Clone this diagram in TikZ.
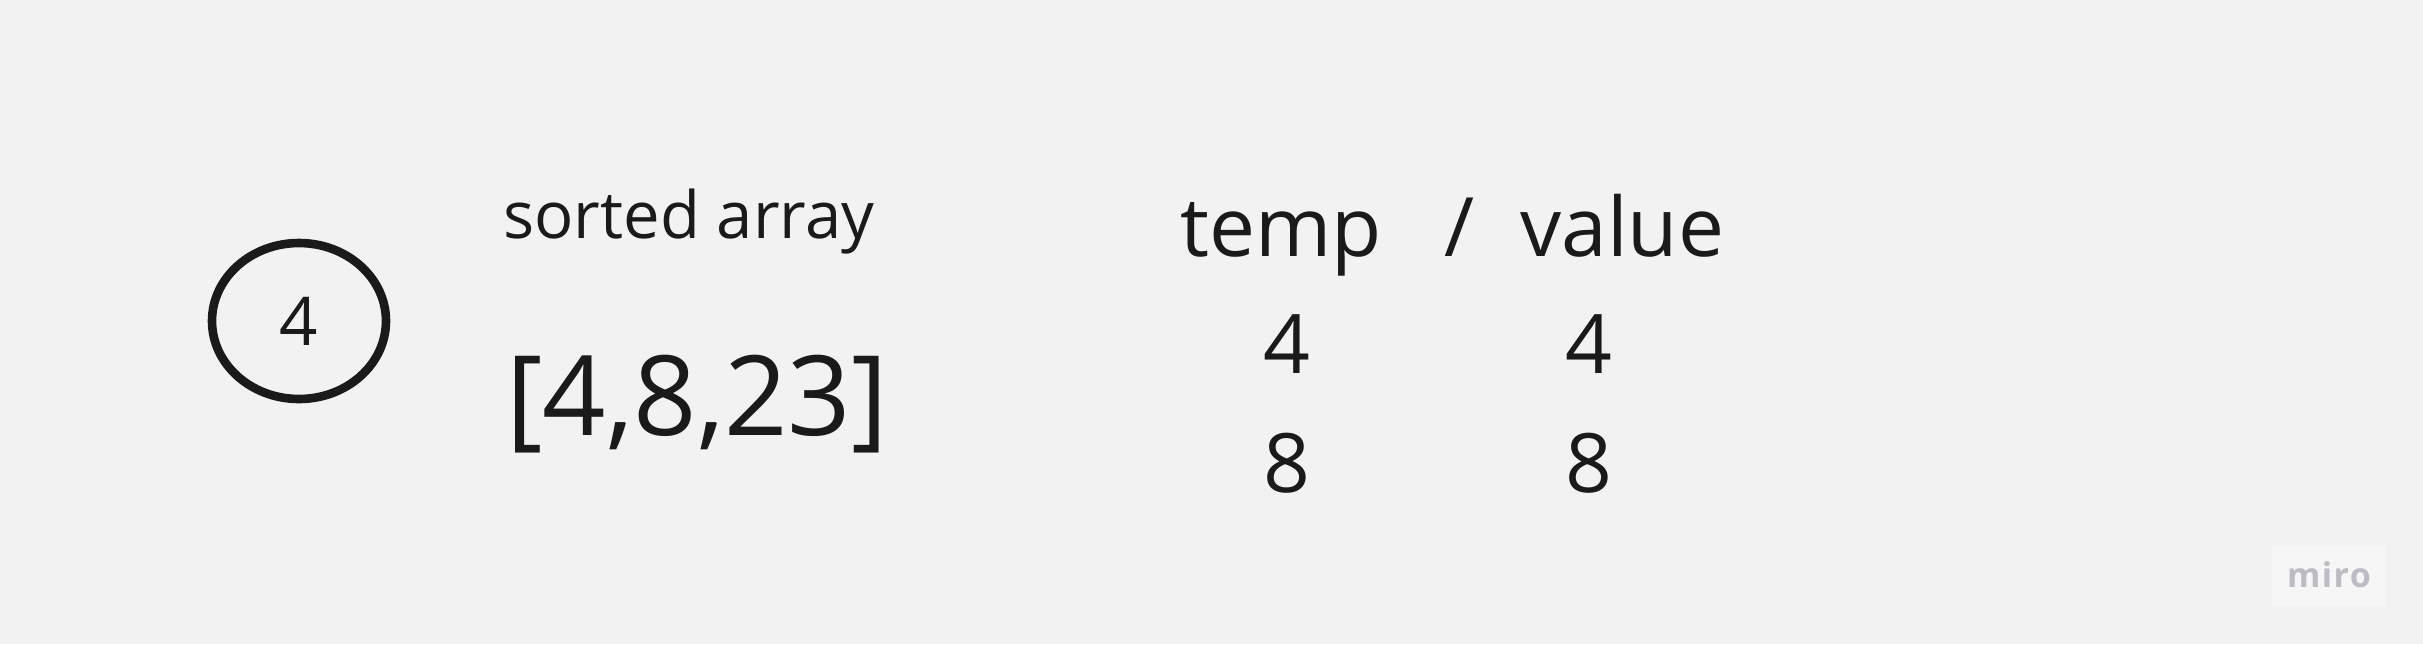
\documentclass[tikz,border=0pt]{standalone}
\usepackage{fontspec}
\setmainfont{Open Sans}
\usetikzlibrary{positioning,shapes.geometric}
\definecolor{bgcol}{HTML}{F2F2F2}
\definecolor{inkcol}{HTML}{1A1A1A}
\definecolor{mirocol}{HTML}{BCBCC5}
\definecolor{miroboxcol}{HTML}{F6F6F6}

\tikzset{
  txt/.style={text=inkcol, inner sep=0pt, anchor=base west},
  cell/.style={text=inkcol, inner sep=0pt, anchor=base, font=\fontsize{41}{49}\selectfont},
}

\begin{document}
\begin{tikzpicture}[x=0.5pt, y=-0.5pt]
  \fill[bgcol] (0,0) rectangle (2423,644);
  \useasboundingbox (0,0) rectangle (2423,644);

  % current element
  \node[ellipse, draw=inkcol, line width=4.3pt, minimum width=87pt, minimum height=78pt,
        inner sep=0pt, text=inkcol, font=\fontsize{33.6}{40}\selectfont] (cur) at (299,321) {4};

  % sorted part
  \node[txt, font=\fontsize{32.6}{40}\selectfont] (sortlbl) at (503,238) {sorted array};
  \node[txt, font=\fontsize{55.5}{66}\selectfont] (sortarr) at (506,435) {[4,8,23]};

  % temp / value table
  \node[txt, font=\fontsize{41}{49}\selectfont] (temphd) at (1180,256) {temp};
  \node[txt, font=\fontsize{41}{49}\selectfont] (slash) at (1444,256) {/};
  \node[txt, font=\fontsize{41}{49}\selectfont] (valhd) at (1520,256) {value};
  \node[cell] (t1) at (1287,373) {4};
  \node[cell] (v1) at (1589,373) {4};
  \node[cell] (t2) at (1287,492) {8};
  \node[cell] (v2) at (1589,492) {8};

  % watermark
  \fill[miroboxcol] (2272,545) rectangle (2385,607);
  \node[inner sep=0pt, anchor=base, text=mirocol,
        font=\fontsize{17}{20}\selectfont\bfseries\addfontfeatures{LetterSpace=4}] (miro) at (2329,587) {miro};
\end{tikzpicture}
\end{document}
